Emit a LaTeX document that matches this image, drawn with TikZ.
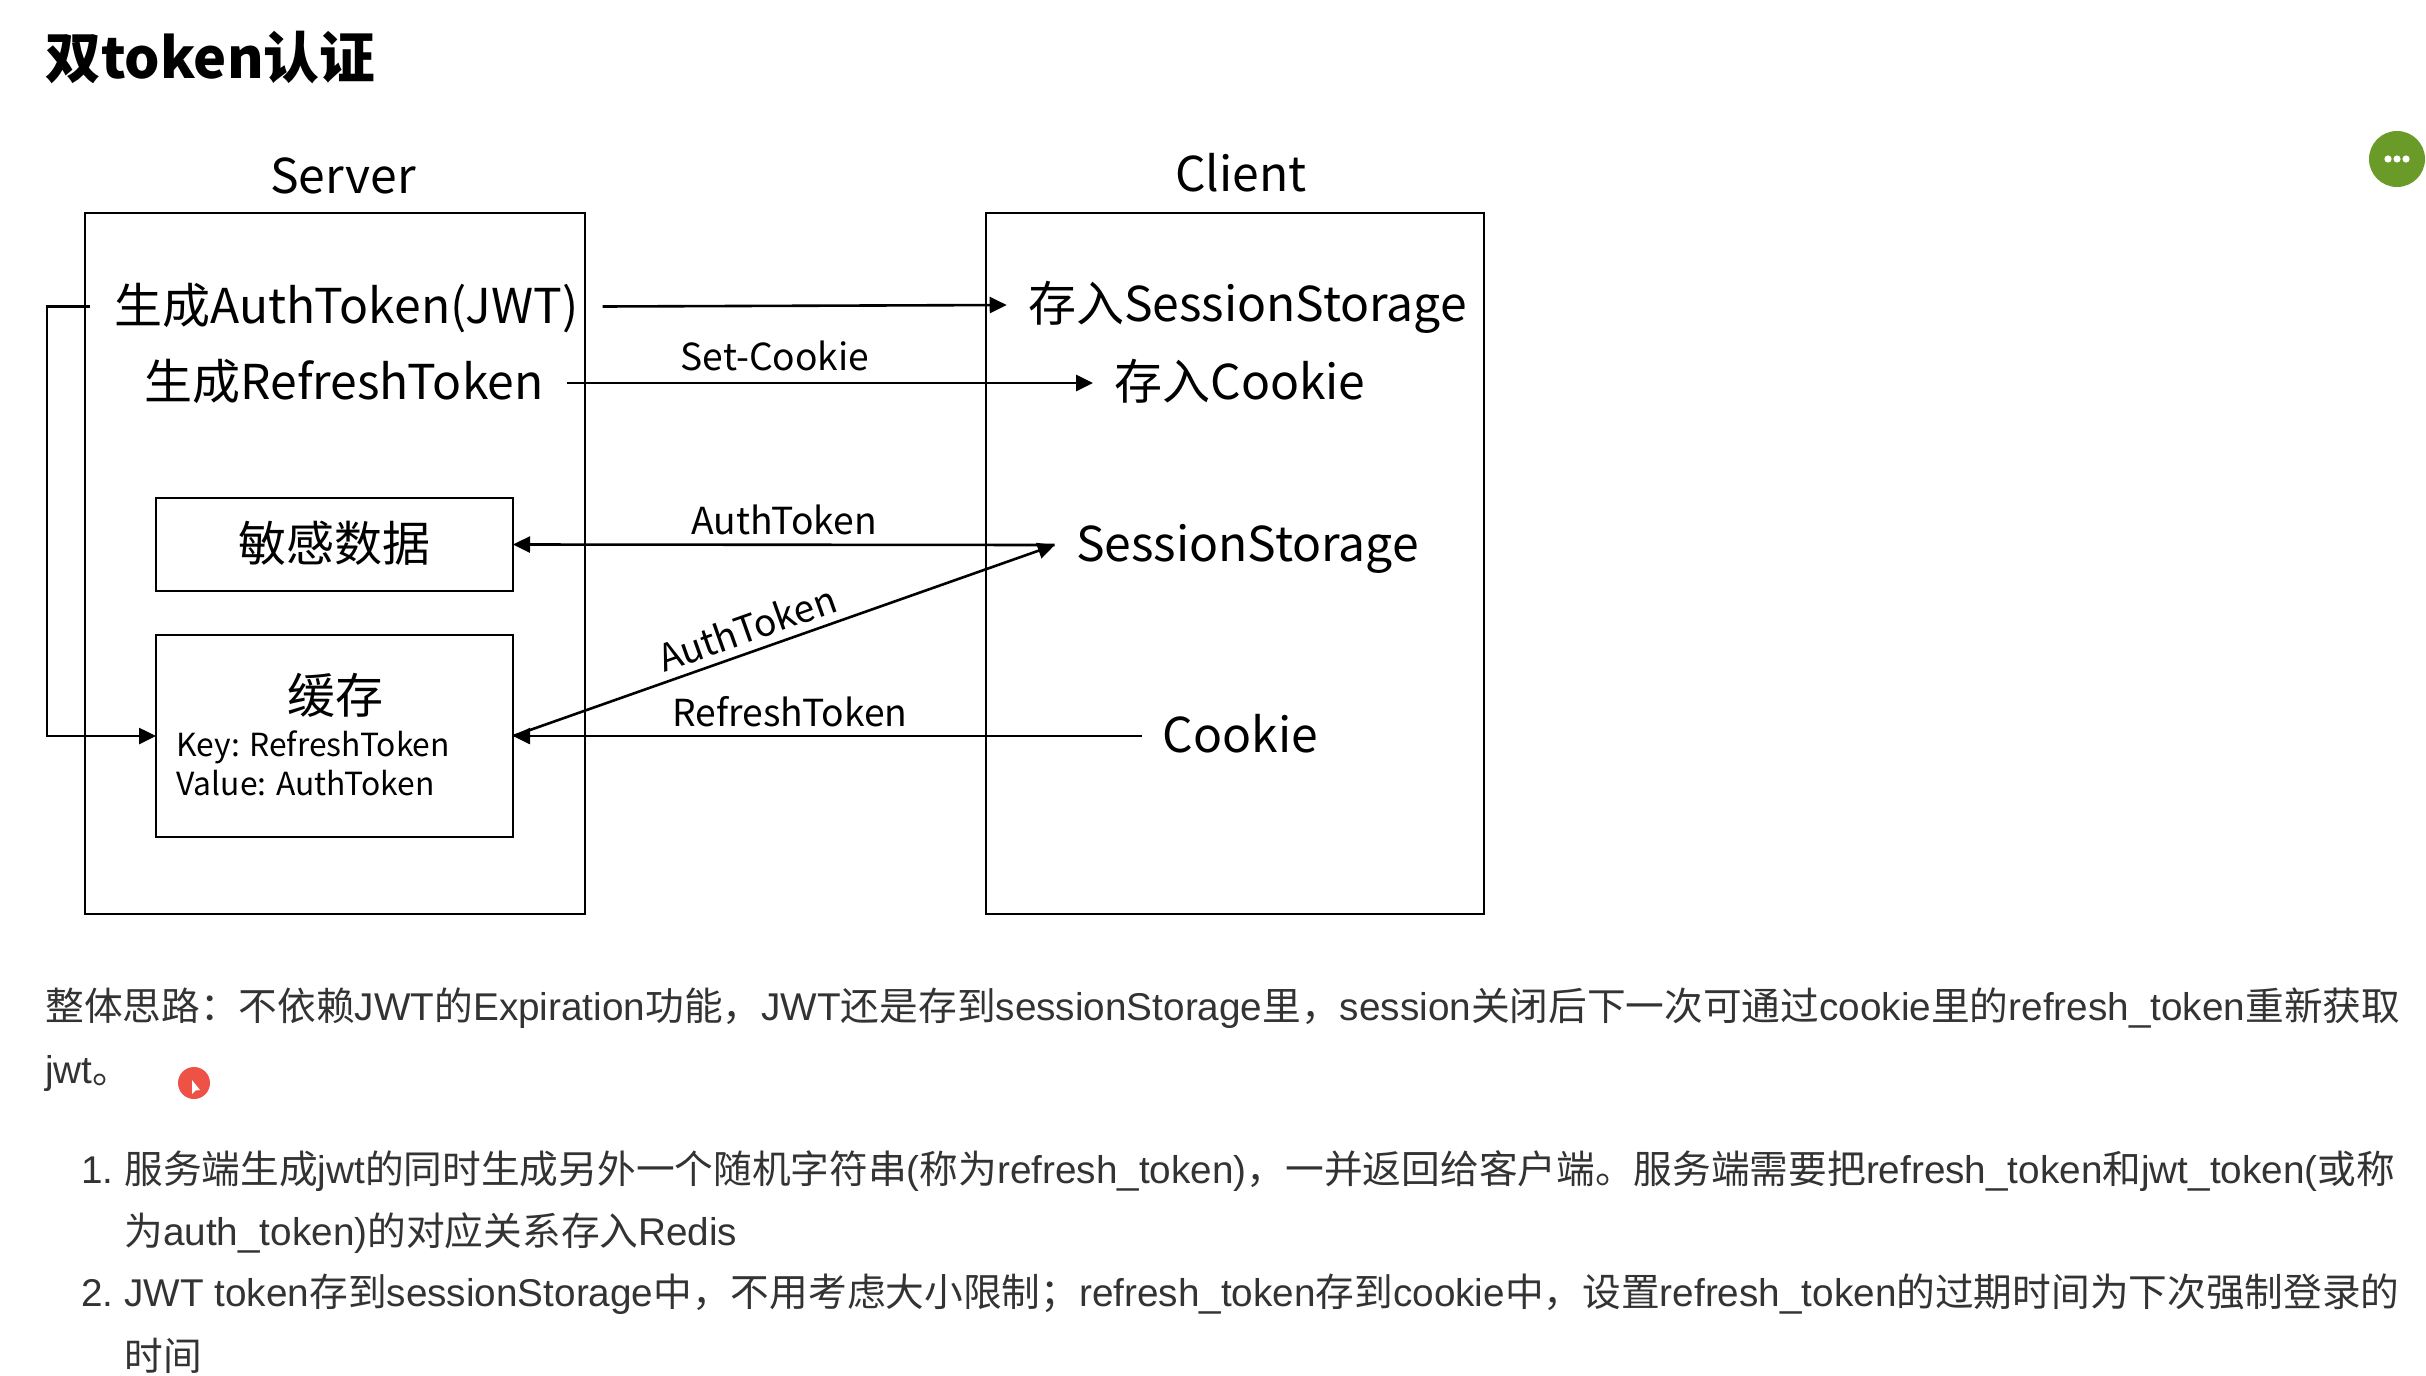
\documentclass[tikz,border=0pt]{standalone}
\usepackage{fontspec}
\usepackage{tikz}
\usetikzlibrary{arrows.meta,shapes}
\setmainfont{Liberation Sans}
\newfontfamily\cjk{Noto Sans CJK SC}
\newcommand{\zh}[1]{{\cjk #1}}
\definecolor{bodygray}{HTML}{333333}
\definecolor{menugreen}{HTML}{6A9A28}
\definecolor{cursorred}{HTML}{EE5246}
\tikzset{
    big/.style={font=\cjk\fontsize{24}{29}\selectfont,inner xsep=11.5pt,inner ysep=0pt,text height=19.5pt,text depth=3pt},
    target/.style={big,inner xsep=10.5pt},
    small/.style={font=\cjk\fontsize{18.6}{22}\selectfont,inner sep=0pt},
    keyval/.style={font=\cjk\fontsize{15.9}{19}\selectfont,inner sep=0pt,anchor=base west},
    box/.style={draw,line width=1.3pt,inner sep=0pt,outer sep=0pt,minimum width=178.5pt},
    para/.style={font=\fontsize{19.35}{23}\selectfont,text=bodygray,inner sep=0pt,anchor=base west},
    conn/.style={line width=1.3pt,-{Triangle[length=8.5pt,width=8pt]}}
}
\begin{document}
\begin{tikzpicture}[x=0.5pt,y=-0.5pt]
\useasboundingbox (0,0) rectangle (2426,1376);
\fill[white] (0,0) rectangle (2426,1376);
% heading
\node [font=\cjk\bfseries\fontsize{27.9}{33}\selectfont,inner sep=0pt,anchor=west] (heading) at (45,57) {双token认证};
\node [big] (serverlabel) at (343,176.5) {Server};
\node [big] (clientlabel) at (1241,175) {Client};
% outer boxes
\node [box,minimum width=250pt,minimum height=350.5pt] (server) at (335,563.5) {};
\node [box,minimum width=249pt,minimum height=350.5pt] (client) at (1235,563.5) {};
% server side
\node [big,inner xsep=12pt] (genauth) at (346.5,306.5) {生成AuthToken(JWT)};
\node [big] (genrefresh) at (344,383) {生成RefreshToken};
\node [box,big,inner xsep=0pt,minimum width=178.5pt,minimum height=46.5pt] (secret) at (334.5,544.5) {敏感数据};
\node [box,minimum height=101pt] (cache) at (334.5,736) {};
\node [big] (cachetitle) at (335,697) {缓存};
\node [keyval] (cachekey) at (176,756.5) {Key: RefreshToken};
\node [keyval] (cacheval) at (176,795) {Value: AuthToken};
% client side
\node [target] (storesession) at (1247.5,305) {存入SessionStorage};
\node [target] (storecookie) at (1240,383) {存入Cookie};
\node [target] (session) at (1247.5,545) {SessionStorage};
\node [target] (cookie) at (1240.5,736) {Cookie};
% connectors
\coordinate (loop) at (47,520);
\draw[conn] (genauth.west) -| (loop) |- (cache.west);
\draw[conn] (genauth.east) -- (storesession.west);
\draw[conn] (genrefresh.east) -- (storecookie.west);
\draw[conn] (session.west) -- (secret.east);
\draw[conn] (cache.east) -- (session.west);
\draw[conn] (cookie.west) -- (cache.east);
\node [small] (setcookie) at (775,356) {Set-Cookie};
\node [small] (authlabel) at (784,519.5) {AuthToken};
\node [small,rotate=19.5] (authslant) at (747,628) {AuthToken};
\node [small] (refreshlabel) at (790,712) {RefreshToken};
% text below
\node [para] (intro) at (45,1020) {\zh{整体思路：不依赖}JWT\zh{的}Expiration\zh{功能，}JWT\zh{还是存到}sessionStorage\zh{里，}session\zh{关闭后下一次可通过}cookie\zh{里的}refresh\_token\zh{重新获取}};
\node [para] (introend) at (45,1083) {jwt\zh{。}};
\node [para] (numone) at (81,1183) {1.};
\node [para] (itemone) at (124,1183) {\zh{服务端生成}jwt\zh{的同时生成另外一个随机字符串}(\zh{称为}refresh\_token)\zh{，一并返回给客户端。服务端需要把}refresh\_token\zh{和}jwt\_token(\zh{或称}};
\node [para] (itemoneb) at (124,1245) {\zh{为}auth\_token)\zh{的对应关系存入}Redis};
\node [para] (numtwo) at (81,1306) {2.};
\node [para] (itemtwo) at (124,1306) {JWT token\zh{存到}sessionStorage\zh{中，不用考虑大小限制；}refresh\_token\zh{存到}cookie\zh{中，设置}refresh\_token\zh{的过期时间为下次强制登录的}};
\node [para] (itemtwob) at (124,1370) {\zh{时间}};
% screen marks
\node [circle,fill=menugreen,minimum size=28pt,inner sep=0pt] (menu) at (2397,159) {};
\foreach \dx in {-9,0,9}
    \fill[white] ([xshift=\dx*0.5pt]menu.center) circle (1.8pt);
\node [circle,fill=cursorred,minimum size=16pt,inner sep=0pt] (cursor) at (194,1083) {};
\fill[white] (192,1080) -- (192,1094) -- (195.5,1090.5) -- (200,1090) -- cycle;
\end{tikzpicture}
\end{document}
